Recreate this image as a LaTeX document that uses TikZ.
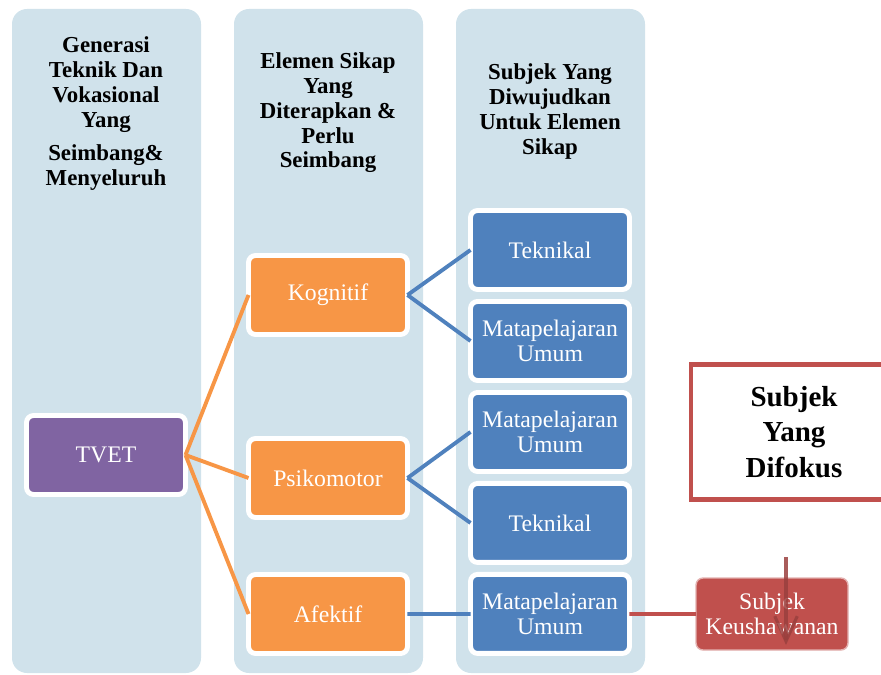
\documentclass[tikz,border=0pt]{standalone}
\usepackage{fontspec}
\setmainfont{Liberation Serif}
\usetikzlibrary{positioning, arrows.meta}
\definecolor{colbg}{RGB}{208,226,235}
\definecolor{tvetpurple}{RGB}{128,100,162}
\definecolor{elemorange}{RGB}{247,150,70}
\definecolor{subjblue}{RGB}{79,129,189}
\definecolor{focusred}{RGB}{192,80,77}
\tikzset{
	header/.style={font=\bfseries\fontsize{13}{14.2}\selectfont, align=center, inner sep=0pt, anchor=north},
	box/.style={rectangle, draw=white, line width=2.8pt, outer sep=0pt, rounded corners=4pt, minimum width=3.18cm, minimum height=1.58cm, text=white, align=center, inner sep=1pt, font=\fontsize{13.5}{14.2}\selectfont},
	tvetbox/.style={box, fill=tvetpurple},
	elembox/.style={box, fill=elemorange},
	subjbox/.style={box, fill=subjblue},
	link/.style={line width=2.2pt}
}

\begin{document}
\begin{tikzpicture}[x=0.02cm, y=-0.02cm]
    \clip (0,0) rectangle (881,675);
    % Columns
    \fill[colbg, rounded corners=0.3cm] (12,9) rectangle (201,673);
    \fill[colbg, rounded corners=0.3cm] (234,9) rectangle (423,673);
    \fill[colbg, rounded corners=0.3cm] (456,9) rectangle (645,673);
    % Headers
    \node[header] (hgen) at (106,36) {Generasi\\Teknik Dan\\Vokasional\\Yang\\[5pt]Seimbang\&\\Menyeluruh};
    \node[header] (helem) at (328,52) {Elemen Sikap\\Yang\\Diterapkan \&\\Perlu\\Seimbang};
    \node[header] (hsubj) at (550,63) {Subjek Yang\\Diwujudkan\\Untuk Elemen\\Sikap};
    % Nodes
    \node[tvetbox] (tvet) at (106,455) {TVET};
    \node[elembox] (kog) at (328,295) {Kognitif};
    \node[elembox] (psiko) at (328,478) {Psikomotor};
    \node[elembox] (afek) at (328,614) {Afektif};
    \node[subjbox] (tek1) at (550,250) {Teknikal};
    \node[subjbox, below=0.24cm of tek1] (mp1) {Matapelajaran\\Umum};
    \node[subjbox, below=0.24cm of mp1] (mp2) {Matapelajaran\\Umum};
    \node[subjbox, below=0.24cm of mp2] (tek2) {Teknikal};
    \node[subjbox, below=0.24cm of tek2] (mp3) {Matapelajaran\\Umum};
    \node[rectangle, fill=focusred, draw=focusred!45, line width=0.8pt, outer sep=0pt, rounded corners=4pt, minimum width=3.04cm, minimum height=1.44cm, text=white, align=center, inner sep=1pt, font=\fontsize{13.5}{14.2}\selectfont] (keush) at (772,614) {Subjek\\Keushawanan};
    \node[rectangle, draw=focusred, fill=white, line width=2.8pt, minimum width=4.12cm, minimum height=2.7cm, align=center, font=\bfseries\fontsize{16.5}{20}\selectfont] (fokus) at (794,432) {Subjek\\Yang\\Difokus};
    % Arrows
    \draw[link, elemorange] (tvet.east) -- (kog.west);
    \draw[link, elemorange] (tvet.east) -- (psiko.west);
    \draw[link, elemorange] (tvet.east) -- (afek.west);
    \draw[link, subjblue] (kog.east) -- (tek1.west);
    \draw[link, subjblue] (kog.east) -- (mp1.west);
    \draw[link, subjblue] (psiko.east) -- (mp2.west);
    \draw[link, subjblue] (psiko.east) -- (tek2.west);
    \draw[link, subjblue] (afek.east) -- (mp3.west);
    \draw[link, focusred] (mp3.east) -- (keush.west);
    \coordinate (arrtop) at (786,557);
    \coordinate (arrtip) at (786,645);
    \draw[focusred!80!black, line width=1.8pt, opacity=0.85, -{Straight Barb[length=5mm, width=4.5mm]}] (arrtop) -- (arrtip);
\end{tikzpicture}
\end{document}
